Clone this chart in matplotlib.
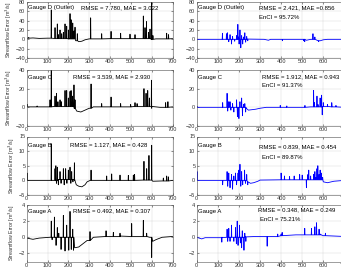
import matplotlib
matplotlib.use('Agg')
import matplotlib.pyplot as plt

plt.rcParams['font.family'] = ['Liberation Sans', 'DejaVu Sans']

# ---- data: (day, value) ----
# left column: model error, right column: corrected error
d_err_base = [(0, 2.5), (30, 3), (60, 2), (100, 2.5), (130, 2), (200, 1), (235, -3), (250, -5),
              (265, -4), (280, -1), (300, 1), (400, 1.5), (500, 1.5), (600, 0), (620, 1), (700, 1.5)]
d_err_spikes = [(10, 4), (118, 63), (136, 25), (147, 33), (152, 10), (160, 20), (168, 12), (176, 15),
                (184, 33), (192, 28), (200, 20), (208, 55), (213, 42), (221, 35), (227, 18), (232, 26),
                (243, 12), (307, 46), (360, 12), (405, 17), (451, 13), (496, 11), (520, 10), (560, 50),
                (568, 25), (575, 38), (585, 15), (592, 22), (600, 82), (606, 8), (672, 13), (681, 10)]
d_cor_base = [(0, 0), (120, 0), (240, 0.5), (320, 0), (340, -2), (350, 0), (500, 0), (520, -2),
              (540, 0), (575, -3), (600, -1), (620, 0), (700, 0)]
d_cor_spikes = [(122, 13), (141, 12), (146, 14), (152, -5), (158, 10), (165, -10), (170, 6), (180, -4),
                (189, 8), (195, 32), (198, 5), (201, -10), (205, 20), (209, -18), (213, 8), (218, -10),
                (222, 5), (228, 14), (232, -6), (237, 6), (242, -3), (406, -3), (507, -3), (512, -5),
                (551, 12), (560, 5), (578, -5), (585, -3)]

c_err_base = [(0, 0.5), (100, 0.5), (130, 1), (200, 1), (228, -1), (240, -4), (260, -5), (280, -3),
              (300, -1), (320, 0.5), (500, 1), (600, -1), (640, 0), (700, 0.5)]
c_err_spikes = [(3, 3), (50, 1.5), (112, 8), (118, 40), (136, 12), (143, 15), (150, 6), (160, 8),
                (166, 6), (184, 18), (192, 18), (200, 10), (208, 17), (213, 18), (220, 12), (227, 24),
                (232, 8), (309, 25), (360, 4), (405, 11), (451, 4), (499, 3), (520, 5), (530, 4),
                (563, 20), (573, 15), (581, 18), (589, 10), (599, 29), (667, 5), (678, 6)]
c_cor_base = [(0, 0), (120, 0), (235, -1), (245, -3), (280, -2), (300, -1), (330, 0), (540, 0.5),
              (600, 1), (640, 0.5), (700, 0)]
c_cor_spikes = [(2, 1), (123, 5), (144, 15), (147, -4), (152, 6), (158, 6), (162, -3), (170, 4),
                (176, -5), (189, 8), (193, -10), (200, -12), (205, 6), (213, 10), (217, -9), (222, 3),
                (228, 4), (232, -5), (396, 2), (427, 1.5), (513, 2), (554, 18), (558, 5), (570, 12),
                (575, 3), (585, 10), (592, 13), (595, -8), (600, 5), (620, 3), (640, 5), (660, 2)]

b_err_base = [(0, 0), (130, 0), (150, 0.3), (230, 0), (238, -1.5), (250, -2), (265, -2.2), (280, -1.5),
              (290, -0.5), (305, 0), (560, 0.1), (605, -0.3), (650, -0.2), (700, 0)]
b_err_spikes = [(2, 2.5), (118, 12.5), (136, 4), (140, 5), (143, -1), (147, 4.5), (152, -1.5),
                (160, 3), (165, -1), (176, 4), (180, -1.5), (187, 4), (193, -1), (200, 3.5), (208, 4.5),
                (212, -1), (216, 3), (222, -0.5), (229, 6), (309, 3.5), (384, 1.5), (408, 2.2),
                (448, 1.8), (488, 1.7), (512, 1.8), (518, 2), (563, 6.5), (576, 4), (587, 8.5),
                (600, 12), (656, 0.8), (672, 1.5), (680, 1.2)]
b_cor_base = [(0, 0), (130, 0), (240, -0.5), (255, -1), (270, -0.8), (290, -0.3), (300, 0.1),
              (400, 0.2), (600, -0.5), (620, -0.8), (650, -0.3), (700, 0)]
b_cor_spikes = [(2, 3), (123, -1.5), (144, 3), (147, -2), (152, 2.5), (158, -2.5), (165, 2), (170, -3),
                (176, 1.5), (184, 2.5), (189, -1.5), (196, 2.5), (200, 3.5), (205, 5.5), (209, -2),
                (213, 3), (218, -1.5), (227, 3.5), (231, -1), (237, 2), (242, -1.5), (400, 2.5),
                (416, 1.5), (440, 1.3), (462, 1.5), (488, 2), (500, 1.8), (520, -2.5), (527, 2),
                (531, 3.5), (540, 1.5), (554, 2), (560, 3), (565, 1), (570, 4), (574, 5), (580, 2),
                (585, 3.5), (590, 2.5), (597, 1)]

a_err_base = [(0, -0.1), (30, -0.25), (60, -0.1), (110, 0), (140, 0), (226, 0), (230, -1.3),
              (250, -1.2), (270, -0.8), (290, -0.4), (320, 0), (380, 0.1), (450, 0.15), (500, 0.1),
              (590, 0), (605, -0.5), (620, -0.3), (650, 0), (700, 0.1)]
a_err_spikes = [(118, 2), (122, -0.3), (133, 2.5), (141, -1), (147, 1.2), (154, 0.5), (165, -1.5),
                (176, 2.7), (184, -1.7), (192, 1.5), (202, -1.6), (208, 3.2), (214, -1.5), (221, 1.0),
                (225, -1.6), (304, 0.7), (381, 0.8), (416, 0.6), (448, 0.5), (504, 1.7), (560, 2.1),
                (576, 0.5), (600, -2.5)]
a_cor_base = [(0, 0), (24, -0.2), (40, -0.05), (120, 0), (230, 0.05), (280, 0.1), (330, 0.1),
              (400, 0.2), (470, 0.3), (600, 0.2), (700, 0.1)]
a_cor_spikes = [(119, -0.6), (144, 1), (147, -0.5), (152, 1.1), (158, -0.5), (165, 1.5), (170, 0),
                (176, -0.5), (184, 1.2), (188, -0.8), (192, 2), (196, -1), (203, 1.5), (207, -0.7),
                (213, -1.3), (216, 0.8), (224, -1.6), (228, 0.5), (233, -0.5), (334, -1.1), (384, 0.4),
                (400, 0.4), (405, 0.6), (512, 1.1), (544, 1.1), (560, 1.3), (568, 1.8), (575, 0.3),
                (580, 1), (588, 0.4), (610, 0.5)]

gauges = ['Gauge D (Outlet)', 'Gauge C', 'Gauge B', 'Gauge A']
err_stats = ['RMSE = 7.780, MAE = 3.022', 'RMSE = 3.539, MAE = 2.930',
             'RMSE = 1.127, MAE = 0.428', 'RMSE = 0.492, MAE = 0.307']
cor_stats = ['RMSE = 2.421, MAE =0.856', 'RMSE = 1.912, MAE = 0.943',
             'RMSE = 0.839, MAE = 0.454', 'RMSE = 0.348, MAE = 0.249']
encis = ['EnCI = 95.72%', 'EnCI = 91.37%', 'EnCI = 89.87%', 'EnCI = 75.21%']
ylims = [(-40, 80), (-20, 40), (-5, 15), (-3, 4)]
yticks = [range(-40, 81, 20), range(-20, 41, 20), range(-5, 16, 5), range(-2, 5, 2)]

series = [[(d_err_base, d_err_spikes), (d_cor_base, d_cor_spikes)],
          [(c_err_base, c_err_spikes), (c_cor_base, c_cor_spikes)],
          [(b_err_base, b_err_spikes), (b_cor_base, b_cor_spikes)],
          [(a_err_base, a_err_spikes), (a_cor_base, a_cor_spikes)]]

# text placement per row (axes fraction)
name_y = [0.9, 0.87, 0.84, 0.89]
err_pos = [(0.37, 0.9), (0.315, 0.87), (0.297, 0.85), (0.315, 0.89)]
cor_pos = [(0.424, 0.9), (0.44, 0.88), (0.424, 0.83), (0.417, 0.91)]
enci_pos = [(0.424, 0.73), (0.44, 0.73), (0.44, 0.64), (0.43, 0.75)]


def build(base, spikes):
    # spikes stand on the last read baseline level before them
    pts = list(base)
    for d, v in spikes:
        foot = [b for b in base if b[0] <= d][-1][1]
        pts += [(d - 1.1, foot), (d, v), (d + 1.1, foot)]
    pts.sort()
    return [p[0] for p in pts], [p[1] for p in pts]


W, H = 341, 269
fig = plt.figure(figsize=(W / 100, H / 100), dpi=100)

rows = [(2, 58), (70, 126), (136.5, 195), (205, 261.5)]  # pixel top/bottom
cols = [(26.7, 172.5), (196.7, 344.4)]                     # pixel left/right

for i in range(4):
    yt, yb = rows[i]
    for j in range(2):
        xl, xr = cols[j]
        ax = fig.add_axes([xl / W, 1 - yb / H, (xr - xl) / W, (yb - yt) / H])
        x, y = build(*series[i][j])
        ax.plot(x, y, color='k' if j == 0 else '#0000ff', lw=0.6)
        ax.set_xlim(0, 700)
        ax.set_ylim(*ylims[i])
        ax.set_xticks(range(0, 701, 100))
        ax.set_yticks(list(yticks[i]))
        ax.grid(True, color='#d4d4d4', lw=0.3)
        ax.set_axisbelow(True)
        ax.tick_params(direction='in', length=1.5, width=0.4, labelsize=4, pad=1,
                       top=True, right=True, colors='#333333')
        for s in ax.spines.values():
            s.set_linewidth(0.4)
            s.set_color('#555555')
        ax.text(0.01, name_y[i], gauges[i], transform=ax.transAxes, fontsize=4.3, va='center')
        if j == 0:
            ax.set_ylabel('Streamflow Error [m$^3$/s]', fontsize=3.8, labelpad=1.5, color='#333333')
            ax.text(*err_pos[i], err_stats[i], transform=ax.transAxes, fontsize=4.3, va='center')
        else:
            ax.text(*cor_pos[i], cor_stats[i], transform=ax.transAxes, fontsize=4.3, va='center')
            ax.text(*enci_pos[i], encis[i], transform=ax.transAxes, fontsize=4.3, va='center')

fig.savefig('out.png', dpi=100)
